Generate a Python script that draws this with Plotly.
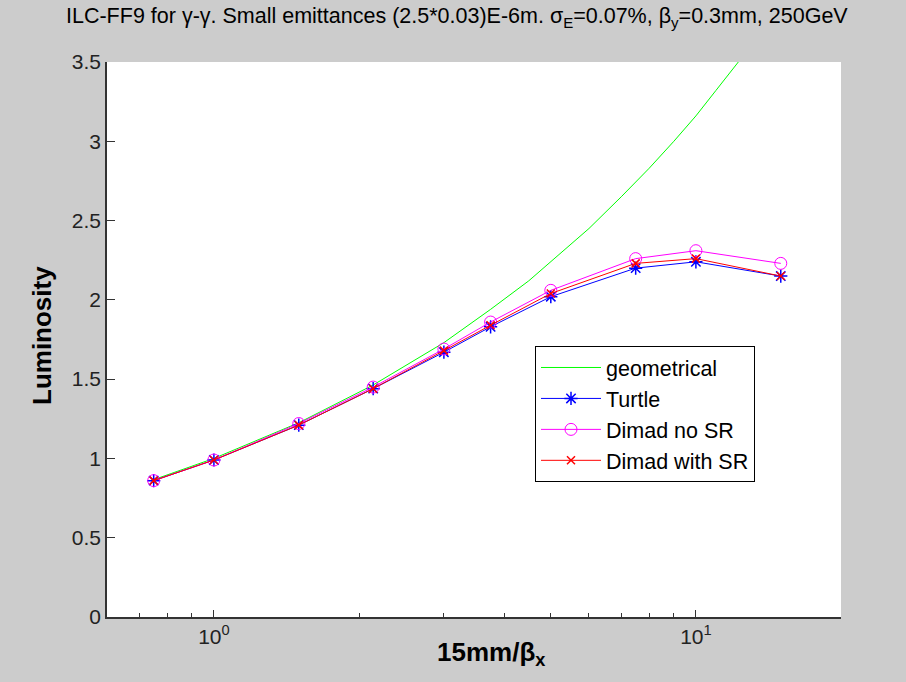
import plotly.graph_objects as go

# x = 15mm / beta_x
x_sim = [0.75, 1.0, 1.5, 2.14, 3.0, 3.75, 5.0, 7.5, 10.0, 15.0]
turtle = [0.86, 0.99, 1.21, 1.44, 1.67, 1.83, 2.02, 2.20, 2.24, 2.15]
dimad_no_sr = [0.86, 0.99, 1.22, 1.45, 1.69, 1.86, 2.06, 2.26, 2.31, 2.23]
dimad_sr = [0.86, 0.99, 1.21, 1.44, 1.68, 1.84, 2.04, 2.23, 2.26, 2.15]

x_geo = [0.75, 1.0, 1.5, 2.14, 3.0, 3.75, 4.5, 5.0, 6.0, 7.0, 8.0, 9.0, 10.0, 11.0, 12.0, 13.0]
geo = [0.866, 1.0, 1.225, 1.463, 1.73, 1.94, 2.12, 2.24, 2.45, 2.65, 2.83, 3.0, 3.16, 3.32, 3.47, 3.6]

y_ticks = [0, 0.5, 1, 1.5, 2, 2.5, 3, 3.5]
y_ticktext = ["0", "0.5", "1", "1.5", "2", "2.5", "3", "3.5"]
x_major = [1, 10]
x_major_text = ["10<sup>0</sup>", "10<sup>1</sup>"]
x_minor = [0.6, 0.7, 0.8, 0.9, 2, 3, 4, 5, 6, 7, 8, 9, 20]

FONT = "Liberation Sans, Arial, sans-serif"

fig = go.Figure()
fig.add_trace(go.Scatter(x=x_geo, y=geo, mode="lines", name="geometrical",
                         line=dict(color="#00ff00", width=1)))
fig.add_trace(go.Scatter(x=x_sim, y=turtle, mode="lines+markers", name="Turtle",
                         line=dict(color="#0000ff", width=1),
                         marker=dict(symbol="asterisk-open", size=11,
                                     line=dict(color="#0000ff", width=1.5))))
fig.add_trace(go.Scatter(x=x_sim, y=dimad_no_sr, mode="lines+markers", name="Dimad no SR",
                         line=dict(color="#ff00ff", width=1),
                         marker=dict(symbol="circle-open", size=12, color="#ff00ff",
                                     line=dict(color="#ff00ff", width=1))))
fig.add_trace(go.Scatter(x=x_sim, y=dimad_sr, mode="lines+markers", name="Dimad with SR",
                         line=dict(color="#ff0000", width=1),
                         marker=dict(symbol="x-thin-open", size=8,
                                     line=dict(color="#ff0000", width=1.5))))

L, R, T, B = 107, 65, 62, 65
W, H = 906, 682

fig.update_layout(
    width=W, height=H,
    margin=dict(l=L, r=R, t=T, b=B),
    paper_bgcolor="#cccccc",
    plot_bgcolor="#ffffff",
    font=dict(family=FONT, size=20, color="#000000"),
    showlegend=True,
    legend=dict(x=(535 - L) / (W - L - R), y=(617 - 346) / (H - T - B),
                xanchor="left", yanchor="top",
                bgcolor="#ffffff", bordercolor="#000000", borderwidth=1,
                font=dict(family=FONT, size=21.5, color="#000000"),
                itemwidth=60, tracegroupgap=0),
    xaxis=dict(type="log", range=[-0.2218, 1.30103],
               tickmode="array", tickvals=x_major, ticktext=x_major_text,
               ticks="inside", ticklen=7, tickwidth=1, tickcolor="#333333",
               showline=True, linecolor="#333333", linewidth=1.5,
               showgrid=False, zeroline=False, mirror=False,
               tickfont=dict(family=FONT, size=21, color="#222222"),
               minor=dict(tickmode="array", tickvals=x_minor, ticks="inside",
                          ticklen=4, tickcolor="#333333", showgrid=False)),
    yaxis=dict(range=[0, 3.5],
               tickmode="array", tickvals=y_ticks, ticktext=y_ticktext,
               ticks="inside", ticklen=8, tickwidth=1, tickcolor="#333333",
               showline=True, linecolor="#333333", linewidth=1.5,
               showgrid=False, zeroline=False, mirror=False,
               tickfont=dict(family=FONT, size=21, color="#222222")),
)

fig.add_annotation(
    text="ILC-FF9 for γ-γ. Small emittances (2.5*0.03)E-6m. σ<sub>E</sub>=0.07%, β<sub>y</sub>=0.3mm, 250GeV",
    xref="paper", yref="paper", x=(457 - L) / (W - L - R), y=1 + (62 - 18) / (H - T - B),
    xanchor="center", yanchor="middle", showarrow=False,
    font=dict(family="Liberation Sans Narrow, Arial Narrow, sans-serif", size=21.5, color="#000000"))

fig.add_annotation(
    text="<b>Luminosity</b>", textangle=-90,
    xref="paper", yref="paper", x=(42 - L) / (W - L - R), y=(617 - 336) / (H - T - B),
    xanchor="center", yanchor="middle", showarrow=False,
    font=dict(family=FONT, size=26, color="#000000"))

fig.add_annotation(
    text="<b>15mm/β<sub>x</sub></b>",
    xref="paper", yref="paper", x=(491 - L) / (W - L - R), y=-(653 - 617) / (H - T - B),
    xanchor="center", yanchor="middle", showarrow=False,
    font=dict(family=FONT, size=26, color="#000000"))

fig.write_html("out.html")
